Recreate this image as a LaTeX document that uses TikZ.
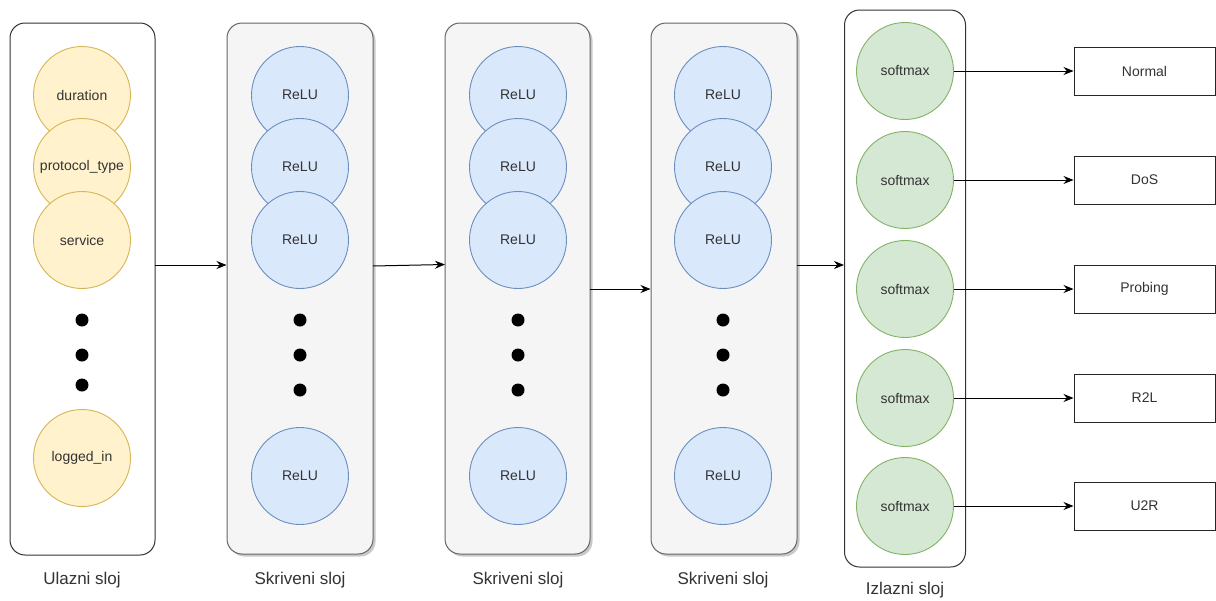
\documentclass[tikz,border=0pt]{standalone}
\usepackage{fontspec}
\setmainfont{Liberation Sans}
\usetikzlibrary{arrows.meta,shadows}
\definecolor{inFill}{HTML}{FFF2CC}\definecolor{inDraw}{HTML}{D6B656}
\definecolor{hFill}{HTML}{DAE8FC}\definecolor{hDraw}{HTML}{6C8EBF}
\definecolor{oFill}{HTML}{D5E8D4}\definecolor{oDraw}{HTML}{82B366}
\definecolor{boxGray}{HTML}{F5F5F5}\definecolor{boxLine}{HTML}{666666}
\definecolor{txt}{HTML}{333333}
\begin{document}
\begin{tikzpicture}[x=1pt,y=-1pt,
  neuron/.style={circle,minimum size=97pt,inner sep=0pt,line width=0.9pt,text=txt,font=\fontsize{14}{16}\selectfont},
  inneuron/.style={neuron,fill=inFill,draw=inDraw},
  hneuron/.style={neuron,fill=hFill,draw=hDraw},
  oneuron/.style={neuron,fill=oFill,draw=oDraw},
  layerbox/.style={rounded corners=15pt,line width=1pt,inner sep=0pt},
  plainlayer/.style={layerbox,draw=black!80,fill=white},
  hiddenlayer/.style={layerbox,draw=boxLine,fill=boxGray,drop shadow={shadow xshift=2.5pt,shadow yshift=-2.5pt,opacity=0.35,fill=black!60}},
  vdot/.style={circle,fill=black,inner sep=0pt,minimum size=13pt},
  classbox/.style={draw=black!85,fill=white,line width=1pt,minimum width=141pt,minimum height=48pt,inner sep=0pt,text=txt,font=\fontsize{14}{16}\selectfont},
  caption/.style={text=txt,font=\fontsize{17}{20}\selectfont,inner sep=0pt},
  conn/.style={line width=1pt,-{Stealth[length=10pt,width=8pt]}}
]
\useasboundingbox (0,0) rectangle (1216,600);
\fill[white] (0,0) rectangle (1216,600);

% layer boxes
\node[plainlayer,minimum width=145pt,minimum height=532pt] (L0) at (82.5,289) {};
\node[hiddenlayer,minimum width=146pt,minimum height=531pt] (L1) at (300,288.5) {};
\node[hiddenlayer,minimum width=145pt,minimum height=531pt] (L2) at (517.5,288.5) {};
\node[hiddenlayer,minimum width=146pt,minimum height=531pt] (L3) at (724,288.5) {};
\node[plainlayer,minimum width=121pt,minimum height=557pt] (L4) at (905,288.5) {};

% input neurons
\node[inneuron] (i1) at (82,95) {duration};
\node[inneuron] (i2) at (82,167) {protocol\_type};
\node[inneuron] (i3) at (82,240) {service};
\node[vdot] (id1) at (82,320) {};
\node[vdot] (id2) at (82,355) {};
\node[vdot] (id3) at (82,385) {};
\node[inneuron] (i4) at (82,458) {logged\_in};

% hidden layers
\foreach \n/\x in {a/300,b/518,c/723}{
  \node[hneuron] (\n1) at (\x,95) {ReLU};
  \node[hneuron] (\n2) at (\x,167) {ReLU};
  \node[hneuron] (\n3) at (\x,240) {ReLU};
  \node[vdot] (\n d1) at (\x,320) {};
  \node[vdot] (\n d2) at (\x,355) {};
  \node[vdot] (\n d3) at (\x,390) {};
  \node[hneuron] (\n4) at (\x,476) {ReLU};
}

% output neurons and classes
\foreach \k/\y/\lab in {1/71/Normal,2/180/DoS,3/289/Probing,4/398/R2L,5/506/U2R}{
  \node[oneuron] (o\k) at (905,\y) {softmax};
  \node[classbox] (c\k) at (1144.5,\y) {\lab};
  \draw[conn] (o\k.east) -- (c\k.west);
}

% layer connectors
\coordinate (p0) at (155,265);
\coordinate (p1a) at (373,266);
\coordinate (p1b) at (445,264.5);
\coordinate (p2) at (590,289);
\coordinate (p3) at (797,265);
\draw[conn] (p0) -- (p0 -| L1.west);
\draw[conn] (p1a) -- (p1b);
\draw[conn] (p2) -- (p2 -| L3.west);
\draw[conn] (p3) -- (p3 -| L4.west);

% captions
\node[caption] (t0) at (82,580) {Ulazni sloj};
\node[caption] (t1) at (300,580) {Skriveni sloj};
\node[caption] (t2) at (518,580) {Skriveni sloj};
\node[caption] (t3) at (723,580) {Skriveni sloj};
\node[caption] (t4) at (905,590) {Izlazni sloj};
\end{tikzpicture}
\end{document}
